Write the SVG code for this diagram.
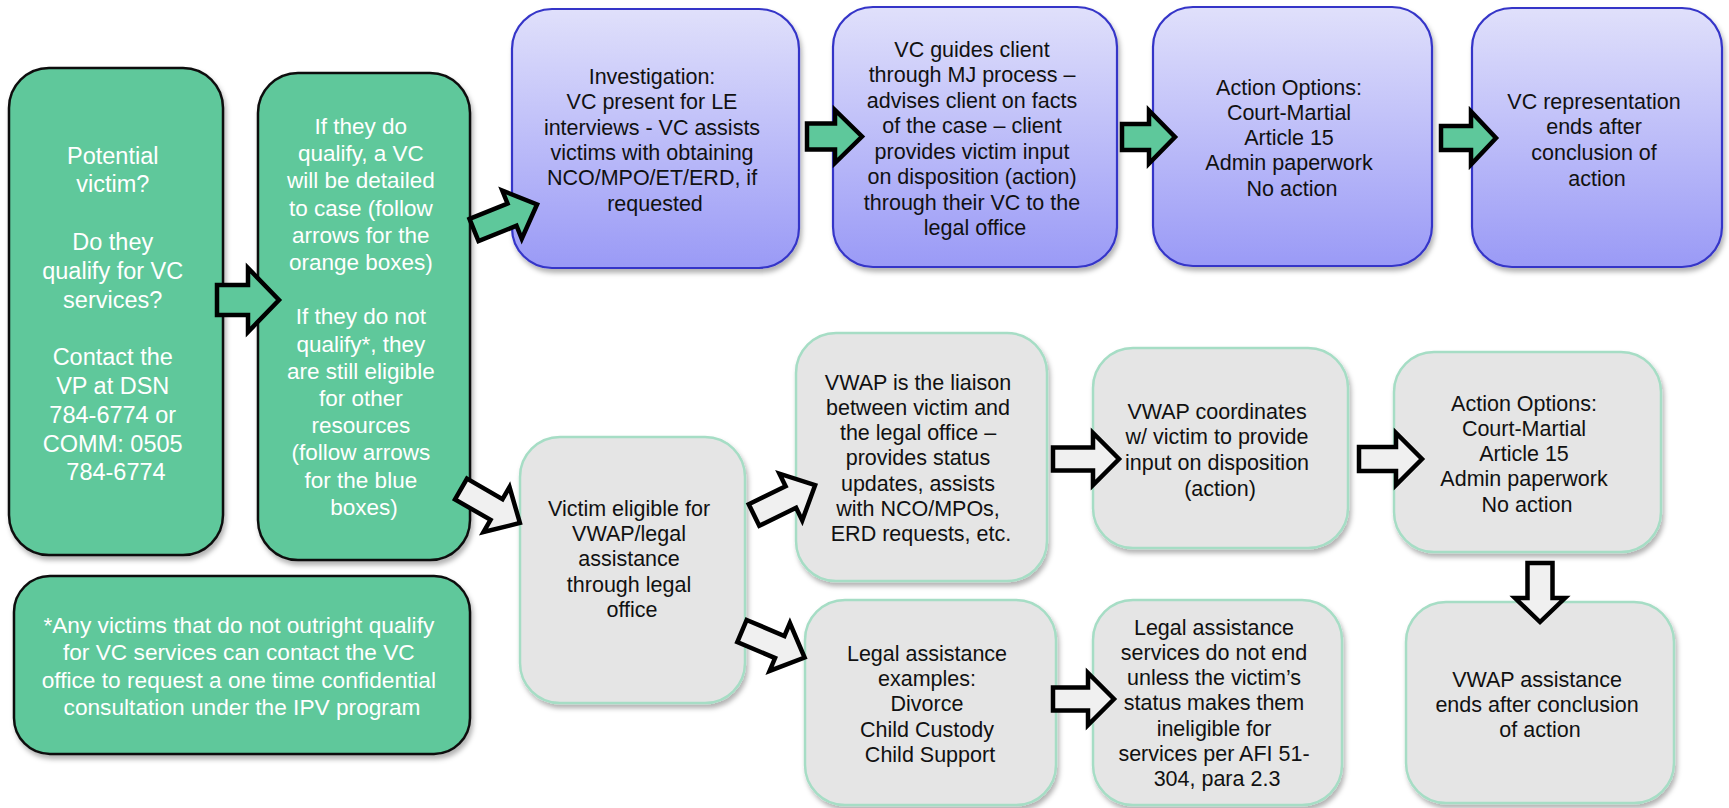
<svg xmlns="http://www.w3.org/2000/svg" width="1729" height="808" viewBox="0 0 1729 808">
<defs>
<linearGradient id="blueGrad" x1="0" y1="0" x2="0" y2="1">
<stop offset="0" stop-color="#E0E0FB"/>
<stop offset="1" stop-color="#9A9AF6"/>
</linearGradient>
<filter id="shadow" x="-10%" y="-10%" width="130%" height="130%">
<feDropShadow dx="2" dy="4" stdDeviation="2.5" flood-color="#000" flood-opacity="0.3"/>
</filter>
</defs>
<style>
.green{fill:#5EC89B;stroke:#111;stroke-width:2.5;filter:url(#shadow)}
.blue{fill:url(#blueGrad);stroke:#3535C8;stroke-width:2.2;filter:url(#shadow)}
.gray{fill:#E5E5E5;stroke:#A6DDC5;stroke-width:2.5;filter:url(#shadow)}
.wt{font-family:"Liberation Sans",Arial,sans-serif;fill:#FFFFFF;text-anchor:middle}
.bt{font-family:"Liberation Sans",Arial,sans-serif;fill:#111111;text-anchor:middle;font-size:21.5px}
.ag{fill:#5EC89B;stroke:#000;stroke-width:4.5;stroke-linejoin:miter}
.ay{fill:#F0F0F0;stroke:#000;stroke-width:4.5;stroke-linejoin:miter}
</style>

<g id="node-potential-victim">
<rect class="green" x="9" y="68" width="214" height="487" rx="40"/>
<text class="wt" font-size="23.5" y="163.5">
<tspan x="116">Potential</tspan>
<tspan x="116" dy="28.8">victim?</tspan>
<tspan x="116" dy="57.6">Do they</tspan>
<tspan x="116" dy="28.8">qualify for VC</tspan>
<tspan x="116" dy="28.8">services?</tspan>
<tspan x="116" dy="57.6">Contact the</tspan>
<tspan x="116" dy="28.8">VP at DSN</tspan>
<tspan x="116" dy="28.8">784-6774 or</tspan>
<tspan x="116" dy="28.8">COMM: 0505</tspan>
<tspan x="116" dy="28.8">784-6774</tspan>
</text>
</g>

<g id="node-qualify">
<rect class="green" x="258" y="73" width="212" height="487" rx="40"/>
<text class="wt" font-size="22.5" y="134">
<tspan x="364">If they do</tspan>
<tspan x="364" dy="27.2">qualify, a VC</tspan>
<tspan x="364" dy="27.2">will be detailed</tspan>
<tspan x="364" dy="27.2">to case (follow</tspan>
<tspan x="364" dy="27.2">arrows for the</tspan>
<tspan x="364" dy="27.2">orange boxes)</tspan>
<tspan x="364" dy="54.4">If they do not</tspan>
<tspan x="364" dy="27.2">qualify*, they</tspan>
<tspan x="364" dy="27.2">are still eligible</tspan>
<tspan x="364" dy="27.2">for other</tspan>
<tspan x="364" dy="27.2">resources</tspan>
<tspan x="364" dy="27.2">(follow arrows</tspan>
<tspan x="364" dy="27.2">for the blue</tspan>
<tspan x="364" dy="27.2">boxes)</tspan>
</text>
</g>

<g id="node-footnote">
<rect class="green" x="14" y="576" width="456" height="178" rx="36"/>
<text class="wt" font-size="22.7" y="633">
<tspan x="242">*Any victims that do not outright qualify</tspan>
<tspan x="242" dy="27.4">for VC services can contact the VC</tspan>
<tspan x="242" dy="27.4">office to request a one time confidential</tspan>
<tspan x="242" dy="27.4">consultation under the IPV program</tspan>
</text>
</g>

<g id="node-investigation">
<rect class="blue" x="512" y="9" width="287" height="259" rx="40"/>
<text class="bt" y="83.7">
<tspan x="655">Investigation:</tspan>
<tspan x="655" dy="25.4">VC present for LE</tspan>
<tspan x="655" dy="25.4">interviews - VC assists</tspan>
<tspan x="655" dy="25.4">victims with obtaining</tspan>
<tspan x="655" dy="25.4">NCO/MPO/ET/ERD, if</tspan>
<tspan x="655" dy="25.4">requested</tspan>
</text>
</g>

<g id="node-vc-guides">
<rect class="blue" x="833" y="7" width="284" height="260" rx="40"/>
<text class="bt" y="56.7">
<tspan x="975">VC guides client</tspan>
<tspan x="975" dy="25.5">through MJ process –</tspan>
<tspan x="975" dy="25.5">advises client on facts</tspan>
<tspan x="975" dy="25.5">of the case – client</tspan>
<tspan x="975" dy="25.5">provides victim input</tspan>
<tspan x="975" dy="25.5">on disposition (action)</tspan>
<tspan x="975" dy="25.5">through their VC to the</tspan>
<tspan x="975" dy="25.5">legal office</tspan>
</text>
</g>

<g id="node-vc-action-options">
<rect class="blue" x="1153" y="7" width="279" height="259" rx="40"/>
<text class="bt" y="94.7">
<tspan x="1292">Action Options:</tspan>
<tspan x="1292" dy="25.25">Court-Martial</tspan>
<tspan x="1292" dy="25.25">Article 15</tspan>
<tspan x="1292" dy="25.25">Admin paperwork</tspan>
<tspan x="1292" dy="25.25">No action</tspan>
</text>
</g>

<g id="node-vc-representation-ends">
<rect class="blue" x="1472" y="8" width="250" height="259" rx="40"/>
<text class="bt" y="108.7">
<tspan x="1597">VC representation</tspan>
<tspan x="1597" dy="25.7">ends after</tspan>
<tspan x="1597" dy="25.7">conclusion of</tspan>
<tspan x="1597" dy="25.7">action</tspan>
</text>
</g>

<g id="node-victim-eligible">
<rect class="gray" x="520" y="437" width="225" height="266" rx="40"/>
<text class="bt" y="515.7">
<tspan x="632">Victim eligible for</tspan>
<tspan x="632" dy="25.3">VWAP/legal</tspan>
<tspan x="632" dy="25.3">assistance</tspan>
<tspan x="632" dy="25.3">through legal</tspan>
<tspan x="632" dy="25.3">office</tspan>
</text>
</g>

<g id="node-vwap-liaison">
<rect class="gray" x="796" y="333" width="251" height="248" rx="40"/>
<text class="bt" y="389.7">
<tspan x="921">VWAP is the liaison</tspan>
<tspan x="921" dy="25.2">between victim and</tspan>
<tspan x="921" dy="25.2">the legal office –</tspan>
<tspan x="921" dy="25.2">provides status</tspan>
<tspan x="921" dy="25.2">updates, assists</tspan>
<tspan x="921" dy="25.2">with NCO/MPOs,</tspan>
<tspan x="921" dy="25.2">ERD requests, etc.</tspan>
</text>
</g>

<g id="node-legal-examples">
<rect class="gray" x="805" y="600" width="251" height="205" rx="40"/>
<text class="bt" y="660.7">
<tspan x="930">Legal assistance</tspan>
<tspan x="930" dy="25.3">examples:</tspan>
<tspan x="930" dy="25.3">Divorce</tspan>
<tspan x="930" dy="25.3">Child Custody</tspan>
<tspan x="930" dy="25.3">Child Support</tspan>
</text>
</g>

<g id="node-vwap-coordinates">
<rect class="gray" x="1093" y="348" width="255" height="200" rx="40"/>
<text class="bt" y="418.7">
<tspan x="1220">VWAP coordinates</tspan>
<tspan x="1220" dy="25.7">w/ victim to provide</tspan>
<tspan x="1220" dy="25.7">input on disposition</tspan>
<tspan x="1220" dy="25.7">(action)</tspan>
</text>
</g>

<g id="node-legal-services">
<rect class="gray" x="1093" y="600" width="249" height="205" rx="40"/>
<text class="bt" y="634.7">
<tspan x="1217">Legal assistance</tspan>
<tspan x="1217" dy="25.2">services do not end</tspan>
<tspan x="1217" dy="25.2">unless the victim’s</tspan>
<tspan x="1217" dy="25.2">status makes them</tspan>
<tspan x="1217" dy="25.2">ineligible for</tspan>
<tspan x="1217" dy="25.2">services per AFI 51-</tspan>
<tspan x="1217" dy="25.2">304, para 2.3</tspan>
</text>
</g>

<g id="node-vwap-action-options">
<rect class="gray" x="1394" y="352" width="267" height="200" rx="40"/>
<text class="bt" y="410.7">
<tspan x="1527">Action Options:</tspan>
<tspan x="1527" dy="25.25">Court-Martial</tspan>
<tspan x="1527" dy="25.25">Article 15</tspan>
<tspan x="1527" dy="25.25">Admin paperwork</tspan>
<tspan x="1527" dy="25.25">No action</tspan>
</text>
</g>

<g id="node-vwap-ends">
<rect class="gray" x="1406" y="602" width="268" height="201" rx="40"/>
<text class="bt" y="686.7">
<tspan x="1540">VWAP assistance</tspan>
<tspan x="1540" dy="25">ends after conclusion</tspan>
<tspan x="1540" dy="25">of action</tspan>
</text>
</g>

<g id="connectors">
<path class="ag" transform="translate(217,300)" d="M0,-15 L31,-15 L31,-32 L62,0 L31,32 L31,15 L0,15 Z"/>
<path class="ag" transform="translate(474,230) rotate(-22)" d="M0,-12 L41,-12 L41,-26 L68,0 L41,26 L41,12 L0,12 Z"/>
<path class="ag" transform="translate(807,136.5)" d="M0,-13 L28,-13 L28,-26.5 L55,0 L28,26.5 L28,13 L0,13 Z"/>
<path class="ag" transform="translate(1122,137)" d="M0,-13 L27,-13 L27,-26.5 L53,0 L27,26.5 L27,13 L0,13 Z"/>
<path class="ag" transform="translate(1441,138)" d="M0,-12 L30,-12 L30,-26.5 L55,0 L30,26.5 L30,12 L0,12 Z"/>
<path class="ay" transform="translate(461,489) rotate(30)" d="M0,-12 L41,-12 L41,-26 L68,0 L41,26 L41,12 L0,12 Z"/>
<path class="ay" transform="translate(754,515) rotate(-26)" d="M0,-12 L41,-12 L41,-26 L68,0 L41,26 L41,12 L0,12 Z"/>
<path class="ay" transform="translate(742,631) rotate(23)" d="M0,-12 L41,-12 L41,-26 L68,0 L41,26 L41,12 L0,12 Z"/>
<path class="ay" transform="translate(1053,459)" d="M0,-11.5 L40,-11.5 L40,-26 L66,0 L40,26 L40,11.5 L0,11.5 Z"/>
<path class="ay" transform="translate(1053,699)" d="M0,-11.5 L35,-11.5 L35,-26 L61,0 L35,26 L35,11.5 L0,11.5 Z"/>
<path class="ay" transform="translate(1359,459)" d="M0,-12 L37,-12 L37,-26 L63,0 L37,26 L37,12 L0,12 Z"/>
<path class="ay" transform="translate(1540,563) rotate(90)" d="M0,-12.5 L35,-12.5 L35,-25 L59,0 L35,25 L35,12.5 L0,12.5 Z"/>
</g>
</svg>
